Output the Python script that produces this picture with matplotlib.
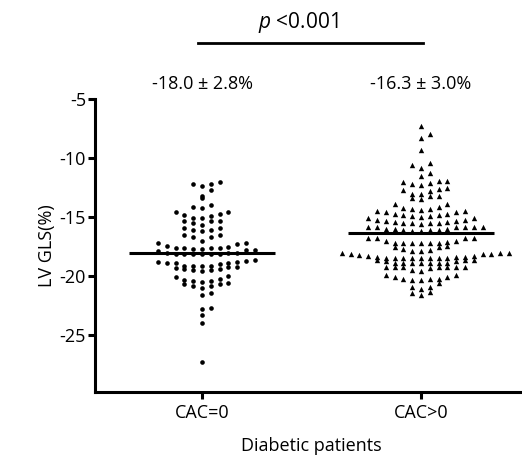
import numpy as np
import matplotlib
matplotlib.use("Agg")
import matplotlib.pyplot as plt

plt.rcParams['font.family'] = ['Open Sans', 'DejaVu Sans']
plt.rcParams['axes.unicode_minus'] = False
plt.rcParams['mathtext.fontset'] = 'custom'
plt.rcParams['mathtext.it'] = 'Open Sans:italic'
plt.rcParams['mathtext.rm'] = 'Open Sans'

# LV global longitudinal strain (%), one value per patient
cac_zero = [-12.0, -12.2, -12.2, -12.4, -12.7,
            -13.2, -13.4,
            -14.0, -14.1, -14.2,
            -14.6, -14.6, -14.7, -14.8, -14.9, -15.1, -15.1,
            -15.3, -15.3, -15.3, -15.5, -15.7, -15.9, -15.9,
            -16.1, -16.1, -16.2, -16.5, -16.5, -16.7, -16.7,
            -17.0, -17.2, -17.2, -17.3, -17.4, -17.5, -17.6, -17.6, -17.6, -17.6,
            -17.7, -17.7, -17.8, -17.8, -17.9, -18.0, -18.0, -18.0,
            -18.1, -18.1, -18.1, -18.1, -18.1, -18.1,
            -18.6, -18.7, -18.8, -18.8, -18.9, -18.9, -18.9, -19.0,
            -19.1, -19.1, -19.1, -19.1, -19.2, -19.2,
            -19.3, -19.4, -19.4, -19.5, -19.5, -19.6,
            -20.0, -20.1, -20.2, -20.3, -20.4, -20.4, -20.5, -20.6,
            -20.7, -20.7, -20.8, -20.8,
            -21.0, -21.4, -21.6,
            -22.7, -22.8, -23.3, -24.0, -27.3]

cac_pos = [-7.3, -8.0, -8.3, -9.3,
           -10.4, -10.6, -10.8,
           -11.3, -11.5,
           -11.9, -11.9, -12.0, -12.1, -12.2, -12.3, -12.5, -12.6,
           -12.7, -12.8, -13.0, -13.0, -13.2, -13.2, -13.4,
           -13.5,
           -13.9, -13.9, -14.1, -14.2,
           -14.3, -14.3, -14.4, -14.5, -14.5, -14.6, -14.6, -14.7, -14.7,
           -14.8, -14.8, -14.9, -14.9, -15.0,
           -15.1, -15.1, -15.2, -15.2, -15.3, -15.3, -15.4, -15.4,
           -15.5, -15.5, -15.5, -15.5, -15.6,
           -15.8, -15.8, -15.8, -15.8, -15.8, -15.8, -16.0, -16.0,
           -16.0, -16.1, -16.1, -16.1, -16.2, -16.2,
           -16.8, -16.8, -16.8, -16.8, -17.0, -17.0, -17.1, -17.2,
           -17.2, -17.2, -17.2, -17.2, -17.2, -17.4,
           -17.5, -17.5, -17.7, -17.8, -17.9, -17.9, -18.0, -18.0,
           -18.0, -18.1, -18.1, -18.1, -18.2,
           -18.3, -18.3, -18.4, -18.4, -18.4, -18.5, -18.5, -18.5, -18.5,
           -18.5, -18.5, -18.5, -18.5, -18.6, -18.6, -18.6, -18.7, -18.7,
           -18.9, -18.9, -18.9, -18.9, -18.9, -18.9, -18.9,
           -19.2, -19.2, -19.2, -19.2, -19.2, -19.2, -19.2, -19.3,
           -19.5, -19.6,
           -19.9, -19.9, -20.1, -20.1, -20.2, -20.2, -20.2, -20.3, -20.3,
           -20.6, -20.9, -20.9,
           -21.1, -21.3, -21.4, -21.6]

groups = ["CAC=0", "CAC>0"]
group_means = [-18.0, -16.3]
group_sds = [2.8, 3.0]
p_text = "<0.001"


def row_offsets(values, step, row_height):
    """Prism-like column scatter: cut the sorted values into rows of limited
    height, spread each row sideways, lowest values in the middle"""
    values = np.asarray(values)
    order = np.argsort(-values, kind="stable")
    rows, cur = [], [order[0]]
    for i in order[1:]:
        if values[cur[0]] - values[i] <= row_height:
            cur.append(i)
        else:
            rows.append(cur)
            cur = [i]
    rows.append(cur)

    offsets = np.zeros(len(values))
    for row in rows:
        n = len(row)
        cols = np.arange(n) - (n - 1) // 2
        cols = sorted(cols, key=lambda c: (abs(c), c))
        row = sorted(row, key=lambda i: values[i])
        for i, c in zip(row, cols):
            offsets[i] = c * step
    return offsets


fig = plt.figure(figsize=(5.22, 4.58), dpi=100)
ax = fig.add_axes([95 / 522, 1 - 392 / 458, 1 - 95 / 522, (392 - 99) / 458])

markers = ["o", "^"]
sizes = [11, 15]
for i, vals in enumerate([cac_zero, cac_pos]):
    dx = row_offsets(vals, 0.0402, 0.55)
    ax.scatter(i + dx, vals, marker=markers[i], s=sizes[i], color="black",
               linewidths=0, zorder=2)
    ax.hlines(group_means[i], i - 0.335, i + 0.335, color="black", lw=2.2,
              zorder=3)
    ax.text(i, -3.75, f"{group_means[i]:.1f} \u00b1 {group_sds[i]:.1f}%",
            ha="center", va="center", fontsize=13, clip_on=False)

# significance bracket above the groups
ax.plot([-0.02, 1.01], [-0.3, -0.3], color="black", lw=2, clip_on=False)
ax.text(0.44, 1.5, r"$\it{p}$ " + p_text, ha="center", va="center",
        fontsize=15, clip_on=False)

ax.set_xlim(-0.489, 1.461)
ax.set_ylim(-29.8, -5)
ax.set_xticks([0, 1])
ax.set_xticklabels(groups)
ax.set_yticks([-5, -10, -15, -20, -25])

for s in ["top", "right"]:
    ax.spines[s].set_visible(False)
for s in ["left", "bottom"]:
    ax.spines[s].set_linewidth(2.2)
ax.tick_params(width=2.2, length=5, labelsize=13)
ax.tick_params(axis="y", pad=1.5)
ax.tick_params(axis="x", pad=4)

ax.set_ylabel("LV GLS(%)", fontsize=13)
ax.yaxis.set_label_coords(-0.092, 0.5)
ax.set_xlabel("Diabetic patients", fontsize=13)
ax.xaxis.set_label_coords(0.507, -0.155)

fig.savefig("out.png", dpi=100)
